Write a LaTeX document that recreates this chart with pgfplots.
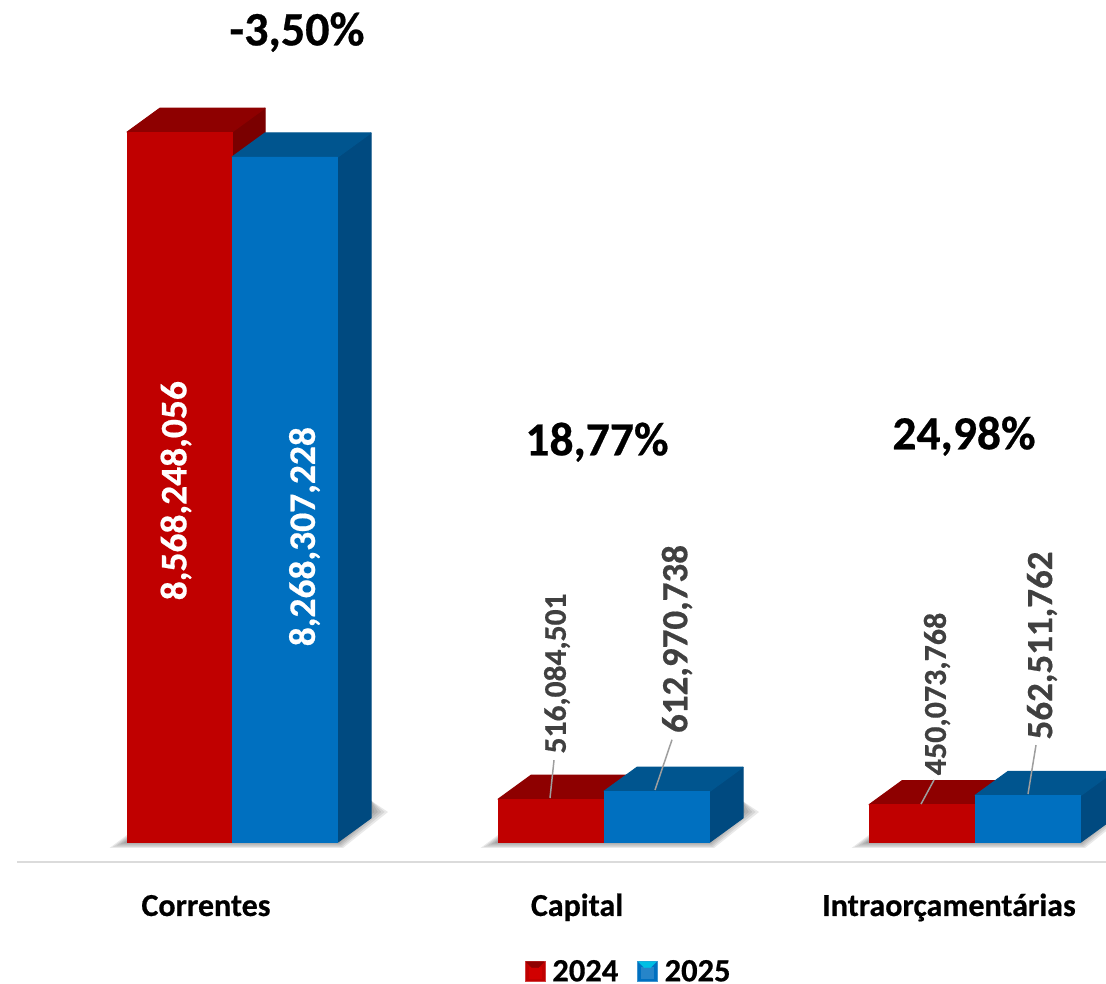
\documentclass[border=0pt]{standalone}
\usepackage{pgfplots}
\pgfplotsset{compat=1.18}
\usepackage{fontspec}
\setmainfont{Carlito}[BoldFeatures={FakeBold=0.5}]
\definecolor{redF}{HTML}{C00000}
\definecolor{redT}{HTML}{8E0000}
\definecolor{redS}{HTML}{7A0000}
\definecolor{bluF}{HTML}{0070C0}
\definecolor{bluT}{HTML}{00558F}
\definecolor{bluS}{HTML}{004A80}
\definecolor{lab}{HTML}{404040}
\pgfplotsset{
  face/.style={forget plot,fill=#1,draw=#1,line width=1pt,line join=round},
  front/.style={forget plot,ybar,bar shift=0pt,bar width=105,fill=#1,draw=#1,line width=0.5pt},
  shad/.style={forget plot,fill=black,draw=none,fill opacity=0.085},
  lead/.style={forget plot,draw=black!38,line width=1.5pt},
}
\newcommand{\vl}[5]{\node[rotate=90,text=#4,font=\fontsize{#3}{#3}\selectfont\bfseries,inner sep=0pt] at (axis cs:#1,#2) {#5};}
\newcommand{\tx}[4]{\node[font=\fontsize{#3}{#3}\selectfont\bfseries,inner sep=0pt] at (axis cs:#1,#2) {#4};}
\newcommand{\cat}[2]{\node[anchor=base,font=\fontsize{32}{32}\selectfont\bfseries,inner sep=0pt] at (axis cs:#1,-893000000) {#2};}
\begin{document}
\begin{tikzpicture}
\begin{axis}[
  scale only axis,width=1106pt,height=983pt,
  xmin=0,xmax=1106,ymin=-1701870000,ymax=10162940000,
  hide axis,
  clip mode=individual,
  legend style={at={(0.5685,0.0125)},anchor=center,draw=none,fill=none,inner sep=0pt,outer sep=0pt,
    font=\fontsize{32.5}{32.5}\selectfont\bfseries,
    nodes={text depth=0pt,inner ysep=0pt},
    /tikz/every even column/.append style={column sep=17pt},
    /tikz/every odd column/.append style={column sep=5pt}},
  legend columns=2,
  legend cell align=left,
]
% ground line
\addplot[forget plot,draw=black!14,line width=2pt] coordinates {(17,-241400000) (1106,-241400000)};
% soft shadows under each group (offsets from the first group)
\pgfplotsinvokeforeach{0,371,742}{
\addplot[shad,x filter/.expression={x+#1}] coordinates {(109.5,-72400000) (343,-72400000) (388,362100000) (371,500000000) (127,84500000)} -- cycle;
\addplot[shad,x filter/.expression={x+#1}] coordinates {(113,-57900000) (342,-57900000) (384.6,362100000) (371,500000000) (127,67600000)} -- cycle;
\addplot[shad,x filter/.expression={x+#1}] coordinates {(116.5,-43500000) (341,-43500000) (381.2,362100000) (371,500000000) (127,50700000)} -- cycle;
\addplot[shad,x filter/.expression={x+#1}] coordinates {(120,-29000000) (340,-29000000) (377.8,362100000) (371,500000000) (127,33800000)} -- cycle;
\addplot[shad,x filter/.expression={x+#1}] coordinates {(123.5,-14500000) (339,-14500000) (374.4,362100000) (371,500000000) (127,16900000)} -- cycle;
}
% 2024 side and top faces
\addplot[face=redS] coordinates {(232,8568248056) (265,8857928056) (265,289680000) (232,0)} -- cycle;
\addplot[face=redT] coordinates {(127,8568248056) (160,8857928056) (265,8857928056) (232,8568248056)} -- cycle;
\addplot[face=redS] coordinates {(604,516084501) (637,805764501) (637,289680000) (604,0)} -- cycle;
\addplot[face=redT] coordinates {(498,516084501) (531,805764501) (637,805764501) (604,516084501)} -- cycle;
\addplot[face=redS] coordinates {(975,450073768) (1008,739753768) (1008,289680000) (975,0)} -- cycle;
\addplot[face=redT] coordinates {(869,450073768) (902,739753768) (1008,739753768) (975,450073768)} -- cycle;
% 2024 fronts
\addplot[front=redF] coordinates {(179.5,8568248056) (551,516084501) (922,450073768)};
% 2025 side and top faces
\addplot[face=bluS] coordinates {(338,8268307228) (371,8557987228) (371,289680000) (338,0)} -- cycle;
\addplot[face=bluT] coordinates {(232,8268307228) (265,8557987228) (371,8557987228) (338,8268307228)} -- cycle;
\addplot[face=bluS] coordinates {(710,612970738) (743,902650738) (743,289680000) (710,0)} -- cycle;
\addplot[face=bluT] coordinates {(604,612970738) (637,902650738) (743,902650738) (710,612970738)} -- cycle;
\addplot[face=bluS] coordinates {(1081,562511762) (1114,852191762) (1114,289680000) (1081,0)} -- cycle;
\addplot[face=bluT] coordinates {(975,562511762) (1008,852191762) (1114,852191762) (1081,562511762)} -- cycle;
% 2025 fronts
\addplot[front=bluF] coordinates {(285,8268307228) (657,612970738) (1028,562511762)};
% leader lines
\addplot[lead] coordinates {(550,531000000) (554,988000000)};
\addplot[lead] coordinates {(655,628000000) (672,1235000000)};
\addplot[lead] coordinates {(921,458000000) (934,748000000)};
\addplot[lead] coordinates {(1028,579000000) (1036,1170000000)};
% legend
\addlegendimage{legend image code/.code={
  \fill[redF!75!white] (0pt,-10pt) rectangle (20pt,10pt);
  \fill[redF] (1pt,-9pt) rectangle (19pt,9pt);
  \fill[red!82!black] (4pt,-7pt) rectangle (16pt,4pt);
  \fill[redS!70!redF] (1pt,9pt) -- (19pt,9pt) -- (13pt,3pt) -- (7pt,3pt) -- cycle;
}}
\addlegendentry{2024}
\addlegendimage{legend image code/.code={
  \fill[bluF!75!white] (0pt,-10pt) rectangle (20pt,10pt);
  \fill[bluF] (1pt,-9pt) rectangle (19pt,9pt);
  \fill[bluF!85!white] (4pt,-7pt) rectangle (16pt,4pt);
  \fill[bluF!45!cyan] (1pt,9pt) -- (19pt,9pt) -- (13pt,3pt) -- (7pt,3pt) -- cycle;
}}
\addlegendentry{2025}
% value labels
\vl{176}{4240000000}{37.5}{white}{8,568,248,056}
\vl{304.5}{3685000000}{37.5}{white}{8,268,307,228}
\vl{557}{2034000000}{31.5}{lab}{516,084,501}
\vl{677}{2450000000}{37}{lab}{612,970,738}
\vl{937}{1786000000}{32}{lab}{450,073,768}
\vl{1042}{2372000000}{37}{lab}{562,511,762}
% percentages
\tx{297}{9775000000}{48}{-3,50\%}
\tx{597}{4826000000}{47.5}{18,77\%}
\tx{964}{4899000000}{47.5}{24,98\%}
% categories
\cat{206}{Correntes}
\cat{577}{Capital}
\cat{949}{Intraorçamentárias}
\end{axis}
\pgfresetboundingbox
\path[use as bounding box] (0,0) rectangle (1106pt,983pt);
\end{tikzpicture}
\end{document}
